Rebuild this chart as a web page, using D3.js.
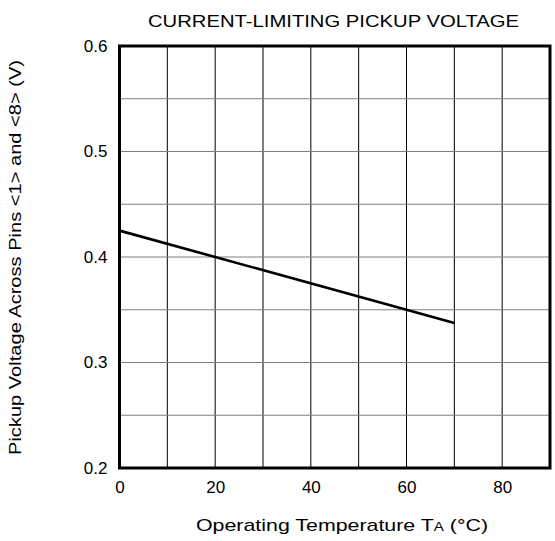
<!DOCTYPE html>
<html>
<head>
<meta charset="utf-8">
<script src="https://cdn.jsdelivr.net/npm/d3@7"></script>
<style>
  html, body { margin: 0; padding: 0; background: #fff; }
  svg { display: block; }
  text { font-family: "Liberation Sans", Arial, sans-serif; fill: #000; }
</style>
</head>
<body>
<svg id="chart" width="555" height="541"></svg>
<script>
// Pickup voltage vs. ambient temperature
const temperatures = [0, 20, 60, 70];
const pickupVolts = [0.425, 0.4, 0.35, 0.3375];
const xTicks = [0, 20, 40, 60, 80];
const yTicks = [0.2, 0.3, 0.4, 0.5, 0.6];
const xGrid = d3.range(10, 90, 10);
const yGrid = d3.range(0.25, 0.6, 0.05);

const svg = d3.select("#chart");
const plotLeft = 119.5, plotRight = 550, plotTop = 46, plotBottom = 468;

const x = d3.scaleLinear().domain([0, 90]).range([plotLeft, plotRight]);
const y = d3.scaleLinear().domain([0.2, 0.6]).range([plotBottom, plotTop]);

// grid
svg.append("g").selectAll("line").data(xGrid).join("line")
  .attr("x1", d => x(d)).attr("x2", d => x(d))
  .attr("y1", plotTop).attr("y2", plotBottom)
  .attr("stroke", "#000").attr("stroke-width", 1);
svg.append("g").selectAll("line").data(yGrid).join("line")
  .attr("x1", plotLeft).attr("x2", plotRight)
  .attr("y1", d => y(d)).attr("y2", d => y(d))
  .attr("stroke", "#808080").attr("stroke-width", 1.2);

// curve
svg.append("path")
  .datum(temperatures.map((t, i) => [t, pickupVolts[i]]))
  .attr("fill", "none").attr("stroke", "#000").attr("stroke-width", 2.6)
  .attr("d", d3.line().x(d => x(d[0])).y(d => y(d[1])));

// frame
svg.append("rect")
  .attr("x", plotLeft).attr("y", plotTop)
  .attr("width", plotRight - plotLeft).attr("height", plotBottom - plotTop)
  .attr("fill", "none").attr("stroke", "#000").attr("stroke-width", 3);

// tick labels
const fontStack = '"Liberation Sans", Arial, sans-serif';
const xAxis = d3.axisBottom(x).tickValues(xTicks).tickSize(0).tickPadding(13)
  .tickFormat(d3.format("d"));
svg.append("g").attr("transform", `translate(0,${plotBottom})`).call(xAxis)
  .call(g => g.select(".domain").remove())
  .call(g => g.selectAll("text").attr("font-size", 17).style("font-family", fontStack));

const yAxis = d3.axisLeft(y).tickValues(yTicks).tickSize(0).tickPadding(12)
  .tickFormat(d3.format(".1f"));
svg.append("g").attr("transform", `translate(${plotLeft},0)`).call(yAxis)
  .call(g => g.select(".domain").remove())
  .call(g => g.selectAll("text").attr("font-size", 17).style("font-family", fontStack));

// title
svg.append("text")
  .attr("x", 148).attr("y", 27)
  .attr("font-size", 16)
  .attr("textLength", 371).attr("lengthAdjust", "spacingAndGlyphs")
  .text("CURRENT-LIMITING PICKUP VOLTAGE");

// x-axis title with subscript A
const xt = svg.append("text")
  .attr("x", 196).attr("y", 531)
  .attr("font-size", 17)
  .attr("textLength", 292).attr("lengthAdjust", "spacingAndGlyphs");
xt.append("tspan").text("Operating Temperature T");
xt.append("tspan").attr("font-size", 12).text("A");
xt.append("tspan").text(" (°C)");

// y-axis title
svg.append("text")
  .attr("transform", "translate(21,455) rotate(-90)")
  .attr("font-size", 17)
  .attr("textLength", 395).attr("lengthAdjust", "spacingAndGlyphs")
  .text("Pickup Voltage Across Pins <1> and <8> (V)");
</script>
</body>
</html>
